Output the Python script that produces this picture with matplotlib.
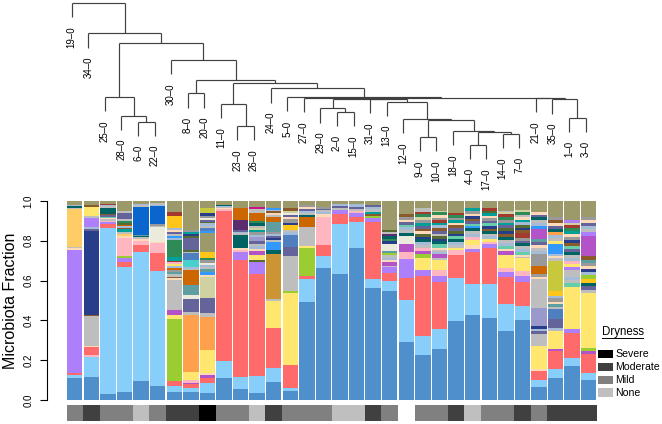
import matplotlib.pyplot as plt
from matplotlib.patches import Rectangle

plt.rcParams['font.family'] = ['Liberation Sans', 'DejaVu Sans']

# leaf order of the dendrogram (= bar order)
samples = ['19-0', '34-0', '25-0', '28-0', '6-0', '22-0', '30-0', '8-0', '20-0', '11-0',
           '23-0', '26-0', '24-0', '5-0', '27-0', '29-0', '2-0', '15-0', '31-0', '13-0',
           '12-0', '9-0', '10-0', '18-0', '4-0', '17-0', '14-0', '7-0', '21-0', '35-0',
           '1-0', '3-0']

dryness = ['Mild', 'Moderate', 'Mild', 'Mild', 'None', 'Mild', 'Moderate', 'Moderate', 'Severe', 'Mild',
           'Mild', 'None', 'Moderate', 'Mild', 'Mild', 'Mild', 'None', 'None', 'Moderate', 'Mild',
           'NA', 'Mild', 'Mild', 'Moderate', 'None', 'Mild', 'Mild', 'Moderate', 'Mild', 'Moderate',
           'Moderate', 'Moderate']

dry_levels = ['Severe', 'Moderate', 'Mild', 'None']
dry_colors = {'Severe': '#000000', 'Moderate': '#404040', 'Mild': '#808080',
              'None': '#bfbfbf', 'NA': '#ffffff'}

# hclust merges: (child, child, height); int child = earlier merge row
merges = [
    ('6-0', '22-0', 0.189),    # 0
    ('28-0', 0, 0.229),        # 1
    ('25-0', 1, 0.355),        # 2
    ('23-0', '26-0', 0.160),   # 3
    ('11-0', 3, 0.307),        # 4
    ('8-0', '20-0', 0.378),    # 5
    ('2-0', '15-0', 0.255),    # 6
    ('29-0', 6, 0.278),        # 7
    ('4-0', '17-0', 0.033),    # 8
    ('14-0', '7-0', 0.107),    # 9
    (8, 9, 0.123),             # 10
    ('18-0', 10, 0.127),       # 11
    ('9-0', '10-0', 0.085),    # 12
    (12, 11, 0.203),           # 13
    ('12-0', 13, 0.205),       # 14
    ('13-0', 14, 0.322),       # 15
    ('31-0', 15, 0.340),       # 16
    (7, 16, 0.343),            # 17
    ('27-0', 17, 0.345),       # 18
    ('1-0', '3-0', 0.215),     # 19
    ('35-0', 19, 0.338),       # 20
    ('21-0', 20, 0.348),       # 21
    (18, 21, 0.350),           # 22
    ('5-0', 22, 0.352),        # 23
    ('24-0', 23, 0.411),       # 24
    (4, 24, 0.449),            # 25
    (5, 25, 0.467),            # 26
    ('30-0', 26, 0.600),       # 27
    (2, 27, 0.711),            # 28
    ('34-0', 28, 0.778),       # 29
    ('19-0', 29, 0.982),       # 30
]

taxa_colors = {
    'st': '#4f8fcc', 'sk': '#87cefa', 'rd': '#ff6a6a', 'ye': '#ffe66e', 'lv': '#ae7ffa',
    'nv': '#283e8a', 'gy': '#bebebe', 'kh': '#9c9a6a', 'or': '#ffa04d', 'yg': '#9acd32',
    'oc': '#cd9436', 'pk': '#ffb6c1', 'bb': '#0a66cc', 'dt': '#006363', 'ru': '#cc6600',
    'sl': '#64649a', 'pc': '#ffcc66', 'be': '#ebebdc', 'sg': '#2e8b57', 'cy': '#00a09a',
    'go': '#ffc61a', 'dr': '#a33a2e', 'ma': '#b452c8', 'pl': '#5a2d6e', 'cb': '#5f9ea0',
    'mt': '#66cdaa', 'li': '#c8c83c', 'db': '#3399ff', 'br': '#8b5a2b', 'dg': '#556b2f',
    'lb': '#a4bcd8', 'pe': '#ffdab9', 'tq': '#48d1cc', 'cr': '#c71585', 'lt': '#d0d0a0',
    'pu': '#9999cc', 'dy': '#999999', 'bl': '#4f7fbf',
}

# taxon fractions per sample, bottom to top
stacks = [
    'st .112 sk .013 rd .008 lv .62 pe .006 gy .008 pc .19 gy .006 dt .006 lb .005 kh .022',
    'st .114 sk .104 pk .006 rd .042 pe .006 gy .151 br .005 nv .42 sl .01 lb .012 lv .045 gy .008 ye .047 br .008 kh .02',
    'st .03 sk .833 rd .02 lv .01 pk .008 gy .008 pe .006 mt .006 sl .006 br .005 dt .033 gy .007 lb .006 dr .004 kh .017',
    'st .042 sk .628 rd .025 lv .017 yg .012 pk .089 pe .012 pc .008 gy .012 cy .012 br .008 lb .01 ru .006 dg .008 sg .008 nv .005 gy .008 sl .028 gy .012 kh .05',
    'st .095 sk .65 rd .034 pk .017 pe .012 gy .008 dt .005 cb .008 bb .142 gy .007 lb .006 kh .015',
    'st .07 sk .578 rd .089 pk .05 pe .008 be .075 gy .006 dy .006 bb .092 lb .006 gy .007 kh .012',
    'st .042 sk .03 rd .025 yg .31 ye .023 ma .022 gy .151 pe .01 br .008 gy .012 cb .012 dy .01 ru .008 lb .012 ye .008 pk .01 dr .007 cy .02 sg .084 lb .012 db .01 gy .01 sl .009 pe .008 lb .01 go .062 dr .022 kh .054',
    'st .042 sk .02 rd .017 ma .008 pk .013 ye .042 or .28 gy .017 sl .067 be .017 cb .05 ru .075 gy .008 lb .008 tq .034 bl .034 gy .008 dg .008 sl .058 dg .012 nv .01 cy .008 dy .012 kh .145',
    'st .034 sk .05 rd .025 ma .017 pe .008 ye .117 or .168 gy .017 sl .075 lt .109 pe .01 db .012 cb .015 gy .01 lb .012 be .01 dy .013 sg .01 go .034 kh .092 db .012 bl .015 gy .01 lb .012 dg .008 sl .01 be .012 dy .01 nv .011 li .025 kh .037',
    'st .11 sk .084 rd .757 pk .008 pe .006 gy .006 lb .006 dt .005 kh .018',
    'st .055 sk .062 rd .586 lv .042 pk .008 pe .01 dt .067 gy .008 lb .008 sl .008 pl .05 ru .059 kh .037',
    'st .037 sk .08 rd .51 lv .059 dg .01 ye .025 ma .02 pe .01 lb .012 gy .013 sl .012 pu .02 lb .012 dy .013 cy .01 lt .012 gy .01 dt .013 sg .01 ru .042 gy .017 cr .012 kh .029',
    'st .092 sk .07 rd .198 ye .137 gy .01 oc .224 dt .022 db .042 gy .01 nv .01 sl .01 lb .01 dy .01 cb .05 ru .022 gy .012 pe .01 br .008 lb .007 db .008 kh .037',
    'st .047 sk .012 rd .117 ye .355 yg .013 gy .171 sl .047 bl .059 lb .015 gy .012 go .025 nv .01 dy .015 pe .01 sl .012 be .012 lt .01 br .011 kh .037',
    'st .494 sk .117 rd .017 yg .142 ye .008 gy .1 ru .05 dt .01 gy .01 lb .01 sl .01 pe .01 dy .01 kh .02',
    'st .662 sk .064 rd .054 pk .142 pe .012 lb .01 gy .01 sl .008 dy .01 kh .028',
    'st .633 sk .255 rd .05 lv .017 gy .01 sl .01 lb .01 kh .017',
    'st .762 sk .134 rd .025 lv .017 pk .01 gy .012 sl .01 lb .013 kh .017',
    'st .565 sk .042 rd .29 lv .017 yg .012 br .01 cy .012 gy .012 lb .01 sl .011 kh .02',
    'st .544 sk .047 rd .04 lv .03 gy .008 ma .017 pe .012 lb .012 gy .012 yg .01 cb .013 be .034 nv .012 sg .013 dt .012 pl .01 gy .01 dg .01 kh .146',
    'st .285 sk .209 rd .109 lv .095 pk .034 ma .037 be .042 dt .015 gy .012 lb .015 mt .012 sl .012 pe .012 dy .015 br .016 kh .062',
    'st .221 sk .097 rd .293 lv .034 ye .059 yg .017 ma .017 pk .012 gy .015 lb .015 dt .015 nv .012 dg .015 pe .012 br .012 sl .015 cy .015 dy .015 lt .015 sg .012 dr .014 gy .015 kh .037',
    'st .256 sk .1 rd .235 lv .034 pk .028 ye .05 gy .008 ma .02 lb .01 gy .01 pe .01 mt .02 dt .015 nv .012 dg .015 gy .012 sl .015 br .012 lb .015 cy .012 dr .015 dy .012 pe .012 sg .015 lt .006 kh .05',
    'st .397 sk .218 rd .114 pk .025 ye .012 gy .015 lb .015 dt .015 mt .012 nv .012 dg .015 sl .015 br .012 pe .012 cy .015 dy .012 sg .012 dr .01 kh .062',
    'st .427 sk .154 rd .161 lv .017 pe .02 ye .025 pk .015 lb .015 gy .012 dt .015 db .012 mt .01 sl .015 br .012 nv .012 pe .012 dy .015 cy .012 kh .037',
    'st .414 sk .168 rd .184 lv .017 pk .012 ye .012 lb .015 gy .012 dt .015 br .012 nv .012 mt .015 sl .012 dy .015 pe .012 cy .012 dg .012 dr .012 kh .037',
    'st .347 sk .134 rd .134 lv .027 pk .02 ye .064 ma .02 pe .012 mt .015 lb .015 gy .015 dt .015 br .015 nv .012 dg .015 sl .015 cy .012 dy .015 sg .012 dr .015 lt .012 gy .005 kh .05',
    'st .402 sk .072 rd .117 lv .032 pk .025 ye .064 gy .008 pe .009 mt .017 lb .015 gy .012 dt .015 sl .012 dy .013 dr .025 br .015 nv .012 dg .015 lb .012 cy .015 pe .012 gy .012 sg .012 lt .012 kh .045',
    'st .067 sk .034 rd .042 pe .013 ye .112 gy .059 sl .017 lb .012 nv .013 pu .092 gy .142 pe .012 dy .013 ru .042 dy .059 lb .015 gy .015 pe .015 sl .015 cb .015 ma .05 db .015 lb .015 gy .012 dt .015 sl .012 pe .015 kh .054',
    'st .112 sk .044 rd .09 ma .008 ye .089 gy .008 lb .009 sl .045 bl .047 gy .012 cb .015 pe .012 dy .015 lb .013 go .025 li .151 gy .012 pe .012 lb .01 db .05 ye .015 gy .015 lb .015 or .015 dt .015 sl .015 pe .015 br .015 dy .014 kh .079',
    'st .168 sk .042 rd .126 lv .017 ye .209 mt .02 gy .015 lb .015 gy .034 lv .015 ye .015 pk .015 lb .015 gy .015 dt .015 sl .015 mt .015 br .015 nv .015 dy .015 pe .015 cy .015 sg .015 dr .014 lt .01 lv .017 kh .095',
    'st .1 sk .034 rd .095 ma .013 yg .013 ye .271 gy .015 sl .02 dt .015 go .02 yg .02 lb .015 nv .015 pe .015 dy .015 cb .015 br .019 ma .1 lv .017 gy .015 lb .015 sl .015 pe .015 dy .015 kh .079',
]

W, H = 662, 424
fig = plt.figure(figsize=(W / 100, H / 100), dpi=100)

def frame(left, top, right, bottom):  # pixel box -> figure fraction
    return [left / W, 1 - bottom / H, (right - left) / W, (bottom - top) / H]

n = len(samples)
bar_left = -0.5 - (66.5 - 46.7) / ((597 - 66.5) / n)

# ---- stacked bars
ax = fig.add_axes(frame(46.7, 201, 597, 400))
for i, s in enumerate(stacks):
    tok = s.split()
    keys = tok[0::2]
    vals = [float(v) for v in tok[1::2]]
    total = sum(vals)
    bottom = 0
    for k, v in zip(keys, vals):
        ax.bar(i, v / total, bottom=bottom, width=0.93, color=taxa_colors[k], linewidth=0)
        bottom += v / total
ax.set_xlim(bar_left, n - 0.5)
ax.set_ylim(0, 1)
for side in ['top', 'right', 'bottom']:
    ax.spines[side].set_visible(False)
ax.spines['left'].set_bounds(0, 1)
ax.spines['left'].set_linewidth(0.8)
ax.set_xticks([])
ax.set_yticks([0, 0.2, 0.4, 0.6, 0.8, 1.0])
ax.set_yticklabels(['0.0', '0.2', '0.4', '0.6', '0.8', '1.0'], rotation=90, va='center')
ax.tick_params(axis='y', length=5.3, width=0.8, pad=4, labelsize=7)
ax.set_ylabel('Microbiota Fraction', fontsize=11.5, labelpad=4)

# ---- dryness strip
axs = fig.add_axes(frame(46.7, 404.7, 597, 420.7))
axs.bar(range(n), [1] * n, width=1.0, bottom=0, color=[dry_colors[d] for d in dryness], linewidth=0)
axs.set_xlim(bar_left, n - 0.5)
axs.set_ylim(0, 1)
axs.axis('off')

# ---- dendrogram
axd = fig.add_axes(frame(46.7, 0, 597, 190))
heights = [m[2] for m in merges]
hang = 0.1 * (max(heights) - min(heights))
pos = {s: i for i, s in enumerate(samples)}
top = {}
lc = '#404040'
for k, (a, b, h) in enumerate(merges):
    xs = []
    for c in (a, b):
        x = pos[c]
        if isinstance(c, str):
            y0 = h - hang
            axd.annotate(c.replace('-', '\u2013'), (x, y0), xytext=(0, -6.5), textcoords='offset points',
                         rotation=90, ha='center', va='top', fontsize=7)
        else:
            y0 = top[c]
        axd.plot([x, x], [y0, h], color=lc, lw=0.85, solid_capstyle='butt')
        xs.append(x)
    axd.plot(xs, [h, h], color=lc, lw=0.85, solid_capstyle='butt')
    pos[k] = (xs[0] + xs[1]) / 2
    top[k] = h
leaf_shift = (71.7 - 66.5) / ((597 - 66.5) / n)
axd.set_xlim(bar_left - leaf_shift + 0.5, n - 0.5 - leaf_shift + 0.5)
axd.set_ylim((150 - 190) / 150, 1.0)
axd.axis('off')

# ---- legend
axl = fig.add_axes([0, 0, 1, 1], facecolor='none')
axl.set_xlim(0, W)
axl.set_ylim(H, 0)
axl.axis('off')
axl.text(601.7, 331.5, 'Dryness', fontsize=8.3, ha='left', va='center')
axl.plot([601.7, 643], [338, 338], color='black', lw=0.7)
for j, lev in enumerate(dry_levels):
    y = 350 + 12.8 * j
    axl.add_patch(Rectangle((598.3, y), 14.4, 8.3, facecolor=dry_colors[lev], edgecolor='none'))
    axl.text(615, y + 4.3, lev, fontsize=7.6, ha='left', va='center')

fig.savefig('out.png', dpi=100)
